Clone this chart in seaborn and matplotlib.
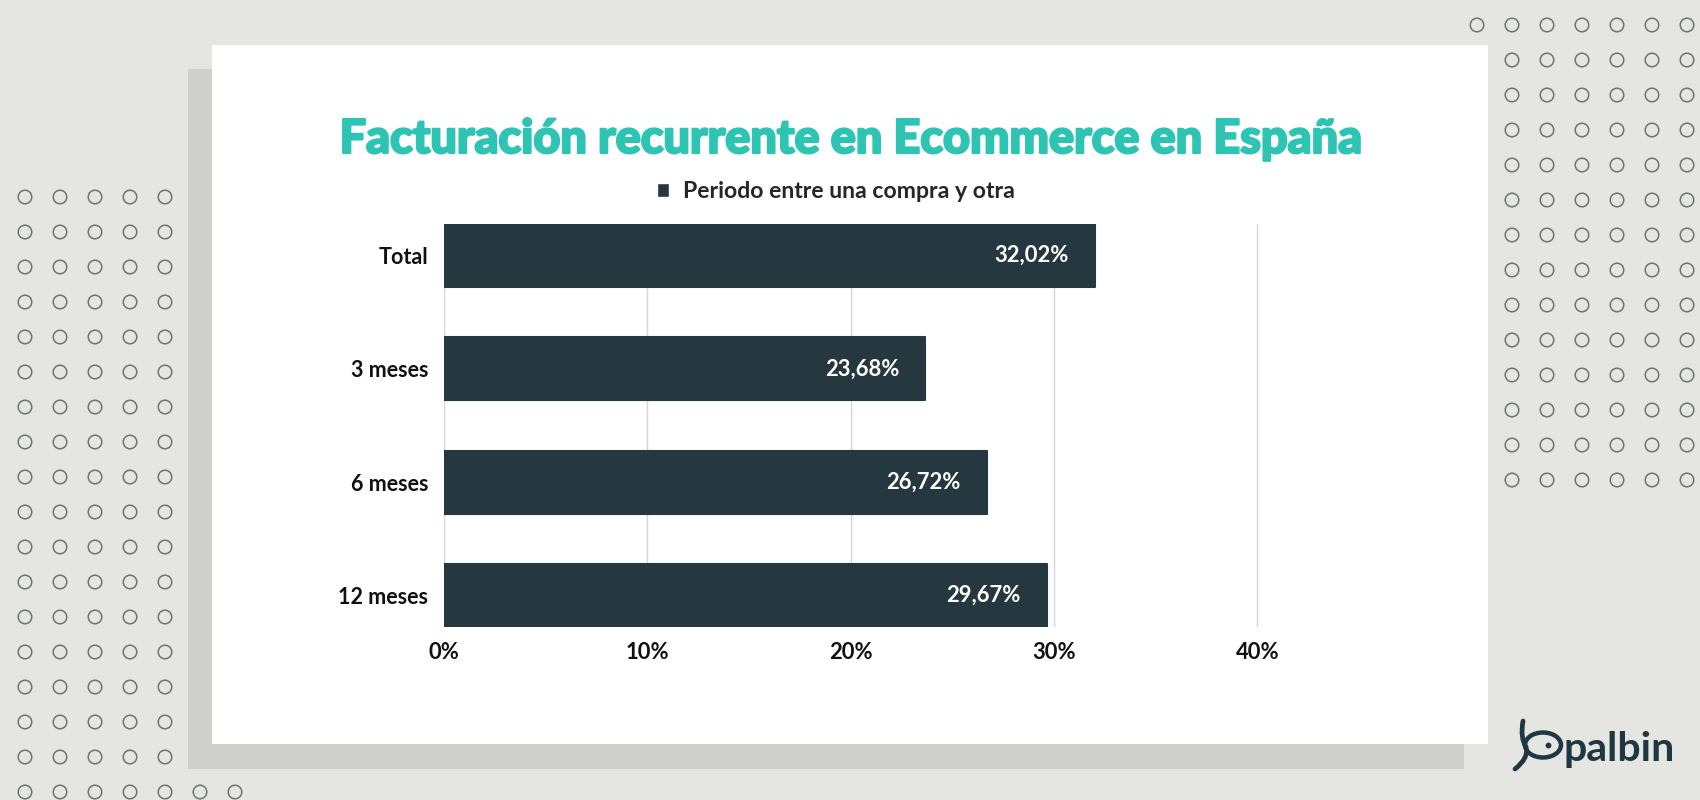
import matplotlib
matplotlib.use("Agg")
import matplotlib.pyplot as plt
import matplotlib.patheffects as pe
import seaborn as sns
import pandas as pd
import numpy as np
from matplotlib.patches import Rectangle, Ellipse, Patch
from matplotlib.path import Path
from matplotlib.patches import PathPatch

# ---- data ----
categories = ["Total", "3 meses", "6 meses", "12 meses"]
values = [32.02, 23.68, 26.72, 29.67]
x_ticks = [0, 10, 20, 30, 40]
x_tick_labels = ["0%", "10%", "20%", "30%", "40%"]
title = "Facturación recurrente en Ecommerce en España"
legend_label = "Periodo entre una compra y otra"

sns.set_theme(style="white")
plt.rcParams["font.family"] = ["Lato", "DejaVu Sans"]

BG = "#E5E6E1"
SHADOW = "#CFD0CB"
BAR = "#26383F"
TEAL = "#2EC4B4"
DOT = "#6E7278"
TXT = "#111111"

W, H = 1700, 800
fig = plt.figure(figsize=(17, 8), dpi=100)
fig.patch.set_facecolor(BG)

# background decoration axes in pixel coordinates
bg = fig.add_axes([0, 0, 1, 1])
bg.set_xlim(0, W)
bg.set_ylim(H, 0)
bg.axis("off")
bg.set_zorder(0)

bg.add_patch(Rectangle((188, 69), 1276, 700, facecolor=SHADOW, edgecolor="none"))
bg.add_patch(Rectangle((212, 45), 1276, 699, facecolor="white", edgecolor="none"))

# dot grids
dx, dy = [], []
for r in range(18):
    y = 197 + 35 * r
    ncol = 7 if r == 17 else 5
    for c in range(ncol):
        dx.append(25 + 35 * c); dy.append(y)
for r in range(14):
    y = 25 + 35 * r
    start = 0 if r == 0 else 1
    for c in range(start, 7):
        dx.append(1477 + 35 * c); dy.append(y)
bg.scatter(dx, dy, s=95, facecolors="none", edgecolors=DOT, linewidths=1.1)

# logo
LOGO = "#1F3643"
bg.add_patch(Ellipse((1543, 745), 36, 25, facecolor="none", edgecolor=LOGO, lw=3.2))
stem = Path([(1523, 721), (1520, 738), (1526, 747), (1529, 758), (1515, 769)],
            [Path.MOVETO, Path.CURVE3, Path.CURVE3, Path.CURVE3, Path.CURVE3])
bg.add_patch(PathPatch(stem, facecolor="none", edgecolor=LOGO, lw=3.4, capstyle="round"))
bg.scatter([1548], [745], s=10, color=LOGO)
bg.text(1564, 750, "palbin", fontsize=29.5, fontweight="bold", color=LOGO,
        ha="left", va="center")

# ---- chart ----
left, right, top, bottom = 444, 444 + 41 * 20.33, 224, 627
ax = fig.add_axes([left / W, 1 - bottom / H, (right - left) / W, (bottom - top) / H])
ax.set_zorder(2)
ax.patch.set_alpha(0)

df = pd.DataFrame({"cat": categories, "val": values})
sns.barplot(data=df, x="val", y="cat", color=BAR, width=0.555, saturation=1, ax=ax,
            zorder=3)
# slightly rounded bar ends
for p in ax.patches:
    p.set_edgecolor(BAR)
    p.set_linewidth(1.5)
    p.set_joinstyle("round")
ax.set_ylim(3 + 0.2775, -0.2775)
ax.set_xlim(0, 41)
ax.set_xticks(x_ticks)
ax.set_xticklabels(x_tick_labels)
ax.set_xlabel("")
ax.set_ylabel("")
for s in ax.spines.values():
    s.set_visible(False)
ax.xaxis.grid(True, color="#D6D6D6", lw=1)
ax.yaxis.grid(False)
ax.set_axisbelow(True)
ax.tick_params(axis="y", length=0, pad=11.5, labelsize=15.5, labelcolor=TXT)
ax.tick_params(axis="x", length=0, pad=11, labelsize=15.8, labelcolor=TXT)
for lab in ax.get_yticklabels() + ax.get_xticklabels():
    lab.set_fontweight("bold")

for i, v in enumerate(values):
    ax.annotate(f"{v:.2f}".replace(".", ",") + "%", xy=(v, i), xytext=(-19, 0),
                textcoords="offset points", ha="right", va="center",
                color="white", fontsize=15.8, fontweight="bold", zorder=5)

fig.text(850 / W, 1 - 139 / H, title, ha="center", va="center", color=TEAL,
         fontsize=33.7, fontweight="black",
         path_effects=[pe.withStroke(linewidth=1.6, foreground=TEAL)])

fig.legend(handles=[Patch(facecolor=BAR)], labels=[legend_label], loc="center",
           bbox_to_anchor=(836 / W, 1 - 192 / H), frameon=False,
           handlelength=0.55, handleheight=0.55, handletextpad=0.6,
           prop={"weight": "bold", "size": 16.6})

fig.savefig("out.png", dpi=100, facecolor=BG)
